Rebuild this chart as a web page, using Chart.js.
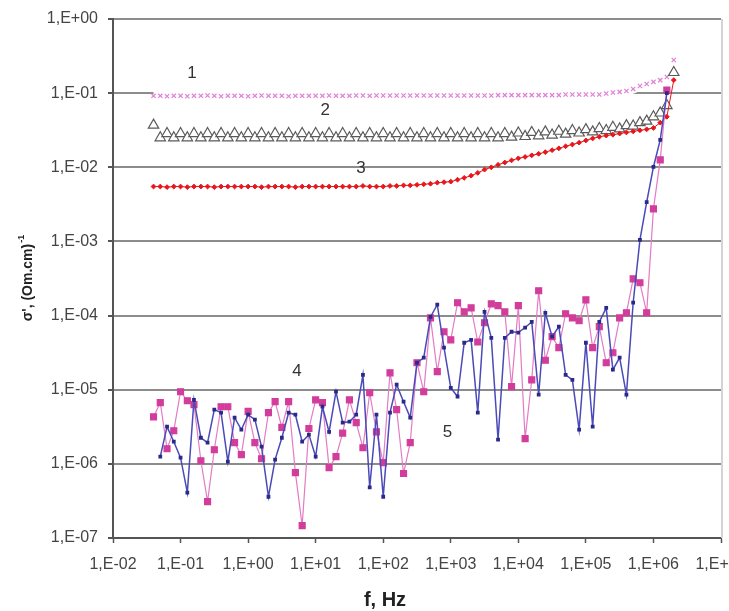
<!DOCTYPE html>
<html>
<head>
<meta charset="utf-8">
<script src="https://cdn.jsdelivr.net/npm/chart.js@4.4.1/dist/chart.umd.min.js"></script>
<style>
    html, body { margin: 0; padding: 0; background: #fff; }
    #wrap { width: 729px; height: 611px; }
</style>
</head>
<body>
<div id="wrap"><canvas id="chart" width="729" height="611"></canvas></div>
<script>
// Measurement frequencies, Hz (10 points per decade)
const freqs = [
    3.98e-2, 5.01e-2, 6.31e-2, 7.94e-2,
    1.00e-1, 1.26e-1, 1.58e-1, 2.00e-1, 2.51e-1, 3.16e-1, 3.98e-1, 5.01e-1, 6.31e-1, 7.94e-1,
    1.00e0, 1.26e0, 1.58e0, 2.00e0, 2.51e0, 3.16e0, 3.98e0, 5.01e0, 6.31e0, 7.94e0,
    1.00e1, 1.26e1, 1.58e1, 2.00e1, 2.51e1, 3.16e1, 3.98e1, 5.01e1, 6.31e1, 7.94e1,
    1.00e2, 1.26e2, 1.58e2, 2.00e2, 2.51e2, 3.16e2, 3.98e2, 5.01e2, 6.31e2, 7.94e2,
    1.00e3, 1.26e3, 1.58e3, 2.00e3, 2.51e3, 3.16e3, 3.98e3, 5.01e3, 6.31e3, 7.94e3,
    1.00e4, 1.26e4, 1.58e4, 2.00e4, 2.51e4, 3.16e4, 3.98e4, 5.01e4, 6.31e4, 7.94e4,
    1.00e5, 1.26e5, 1.58e5, 2.00e5, 2.51e5, 3.16e5, 3.98e5, 5.01e5, 6.31e5, 7.94e5,
    1.00e6, 1.26e6, 1.58e6, 2.00e6
];

// sigma' values, (Om.cm)^-1
const series1 = [
    0.092, 0.092, 0.091, 0.092,
    0.092, 0.091, 0.092, 0.092, 0.093, 0.092, 0.091, 0.092, 0.092, 0.092,
    0.091, 0.092, 0.093, 0.092, 0.092, 0.092, 0.091, 0.092, 0.092, 0.092,
    0.092, 0.092, 0.093, 0.092, 0.092, 0.092, 0.093, 0.093, 0.092, 0.093,
    0.093, 0.093, 0.093, 0.093, 0.093, 0.093, 0.093, 0.093, 0.093, 0.093,
    0.093, 0.093, 0.093, 0.093, 0.093, 0.093, 0.093, 0.094, 0.094, 0.094,
    0.094, 0.094, 0.094, 0.094, 0.094, 0.094, 0.094, 0.096, 0.096, 0.096,
    0.096, 0.096, 0.096, 0.099, 0.102, 0.104, 0.107, 0.114, 0.125, 0.133,
    0.142, 0.150, 0.165, 0.28
];
const series2 = [
    0.037, 0.025, 0.0285, 0.025,
    0.0285, 0.025, 0.0285, 0.025, 0.0285, 0.025, 0.0285, 0.025, 0.0285, 0.025,
    0.0285, 0.025, 0.0285, 0.025, 0.0285, 0.025, 0.0285, 0.025, 0.0285, 0.025,
    0.0285, 0.025, 0.0285, 0.025, 0.0285, 0.025, 0.0285, 0.025, 0.0285, 0.025,
    0.0285, 0.025, 0.0285, 0.025, 0.0285, 0.025, 0.0285, 0.025, 0.0285, 0.025,
    0.0285, 0.025, 0.0285, 0.025, 0.0285, 0.025, 0.0285, 0.025, 0.0285, 0.0255,
    0.0290, 0.0260, 0.0295, 0.0266, 0.0300, 0.0272, 0.0306, 0.0280, 0.0313, 0.0290,
    0.0322, 0.0300, 0.0333, 0.0313, 0.0346, 0.0330, 0.0365, 0.0360, 0.0400, 0.0420,
    0.0480, 0.0540, 0.0680, 0.19
];
const series3 = [
    0.0055, 0.0055, 0.0054, 0.0055,
    0.0055, 0.0054, 0.0055, 0.0055, 0.0055, 0.0054, 0.0055, 0.0055, 0.0055, 0.0055,
    0.0055, 0.0055, 0.0054, 0.0055, 0.0055, 0.0055, 0.0055, 0.0054, 0.0055, 0.0055,
    0.0055, 0.0055, 0.0055, 0.0055, 0.0055, 0.0055, 0.0055, 0.0056, 0.0055, 0.0055,
    0.0055, 0.0056, 0.0056, 0.0057, 0.0057, 0.0058, 0.0059, 0.0060, 0.0062, 0.0063,
    0.0064, 0.0068, 0.0072, 0.0077, 0.0084, 0.0093, 0.0100, 0.0108, 0.0116, 0.0124,
    0.0132, 0.0138, 0.0145, 0.0152, 0.0160, 0.0170, 0.0180, 0.0192, 0.0203, 0.0215,
    0.0230, 0.0245, 0.0258, 0.0268, 0.0275, 0.0285, 0.0295, 0.0305, 0.0315, 0.0325,
    0.034, 0.040, 0.048, 0.15
];
const series4 = [
    4.3e-6, 6.7e-6, 1.6e-6, 2.8e-6,
    9.4e-6, 7.1e-6, 6.3e-6, 1.1e-6, 3.1e-7, 1.55e-6, 5.9e-6, 5.9e-6, 1.93e-6, 1.33e-6,
    5.1e-6, 1.93e-6, 1.17e-6, 4.9e-6, 6.9e-6, 3.1e-6, 6.9e-6, 7.6e-7, 1.47e-7, 3.0e-6,
    7.3e-6, 6.7e-6, 8.9e-7, 1.25e-6, 2.6e-6, 7.3e-6, 3.6e-6, 1.65e-6, 9.1e-6, 2.7e-6,
    1.04e-6, 1.69e-5, 5.4e-6, 7.4e-7, 1.93e-6, 2.31e-5, 9.4e-6, 9.3e-5, 1.75e-5, 6.05e-5,
    4.7e-5, 1.49e-4, 1.12e-4, 1.27e-4, 4.4e-5, 8.0e-5, 1.44e-4, 1.36e-4, 1.12e-4, 1.1e-5,
    1.36e-4, 2.19e-6, 1.36e-5, 2.16e-4, 2.5e-5, 5.2e-5, 3.7e-5, 1.06e-4, 9.3e-5, 8.5e-5,
    1.63e-4, 3.7e-5, 7.1e-5, 2.31e-5, 3.15e-5, 9.3e-5, 1.09e-4, 3.13e-4, 2.77e-4, 1.09e-4,
    2.75e-3, 1.26e-2, 0.11, null
];
const series5 = [
    null, 1.25e-6, 3.17e-6, 1.99e-6,
    1.21e-6, 4.1e-7, 7.3e-6, 2.25e-6, 1.93e-6, 5.4e-6, 4.9e-6, 1.07e-6, 4.2e-6, 2.89e-6,
    4.6e-6, 3.95e-6, 1.71e-6, 3.6e-7, 1.14e-6, 2.25e-6, 4.9e-6, 4.6e-6, 1.99e-6, 2.48e-6,
    1.25e-6, 5.9e-6, 2.7e-6, 9.4e-6, 3.6e-6, 3.7e-6, 4.6e-6, 1.59e-5, 4.8e-7, 4.6e-6,
    3.6e-7, 4.9e-6, 1.17e-5, 6.9e-6, 4.2e-6, 2.31e-5, 2.7e-5, 9.6e-5, 1.40e-4, 3.7e-5,
    1.06e-5, 8.1e-6, 4.3e-5, 4.7e-5, 4.9e-6, 1.12e-4, 5.0e-5, 2.12e-6, 5.0e-5, 6.05e-5,
    5.9e-5, 6.9e-5, 8.2e-5, 8.6e-6, 1.09e-4, 5.2e-5, 7.1e-5, 1.59e-5, 1.36e-5, 2.89e-6,
    4.3e-5, 3.17e-6, 8.2e-5, 1.27e-4, 1.86e-5, 2.7e-5, 8.6e-6, 1.49e-4, 1.05e-3, 3.4e-3,
    1.01e-2, 2.34e-2, 0.10, null
];

// Axis ticks
const xTickValues = [1e-2, 1e-1, 1e0, 1e1, 1e2, 1e3, 1e4, 1e5, 1e6, 1e7];
const xTickLabels = ['1,E-02', '1,E-01', '1,E+00', '1,E+01', '1,E+02', '1,E+03', '1,E+04', '1,E+05', '1,E+06', '1,E+07'];
const yTickValues = [1e-7, 1e-6, 1e-5, 1e-4, 1e-3, 1e-2, 1e-1, 1e0];
const yTickLabels = ['1,E-07', '1,E-06', '1,E-05', '1,E-04', '1,E-03', '1,E-02', '1,E-01', '1,E+00'];

// Curve numbers, placed in data coordinates
const curveNames = ['1', '2', '3', '4', '5'];
const curveNameX = [0.148, 13.8, 47, 5.3, 890];
const curveNameY = [0.187, 0.0594, 0.0098, 1.75e-5, 2.7e-6];

const FONT = 'Arial, "Liberation Sans", sans-serif';

function toPoints(values) {
    return freqs.map((f, i) => ({ x: f, y: values[i] })).filter(p => p.y !== null);
}

function tickLabel(values, labels, value) {
    const idx = values.findIndex(v => Math.abs(Math.log10(v) - Math.log10(value)) < 1e-6);
    return idx >= 0 ? labels[idx] : '';
}

// Right frame, curve numbers and axis titles
const decorations = {
    id: 'decorations',
    afterDraw(chart) {
        const { ctx, chartArea, scales } = chart;
        ctx.save();

        ctx.strokeStyle = '#d4d4d4';
        ctx.lineWidth = 2;
        ctx.beginPath();
        ctx.moveTo(chartArea.right + 1, chartArea.top);
        ctx.lineTo(chartArea.right + 1, chartArea.bottom);
        ctx.stroke();

        ctx.fillStyle = '#333';
        ctx.font = '17px ' + FONT;
        ctx.textAlign = 'center';
        ctx.textBaseline = 'middle';
        curveNames.forEach((name, i) => {
            ctx.fillText(name, scales.x.getPixelForValue(curveNameX[i]), scales.y.getPixelForValue(curveNameY[i]));
        });

        // x title
        ctx.fillStyle = '#222';
        ctx.font = 'bold 20px ' + FONT;
        ctx.fillText('f, Hz', chartArea.left + 272, 600);

        // y title, rotated, with superscript
        const main = "\u03C3', (Om.cm)";
        const sup = '-1';
        ctx.translate(28, (chartArea.top + chartArea.bottom) / 2);
        ctx.rotate(-Math.PI / 2);
        ctx.font = 'bold 14px ' + FONT;
        const wMain = ctx.measureText(main).width;
        ctx.font = 'bold 9px ' + FONT;
        const wSup = ctx.measureText(sup).width;
        const start = -(wMain + wSup) / 2;
        ctx.textAlign = 'left';
        ctx.font = 'bold 14px ' + FONT;
        ctx.fillText(main, start, 0);
        ctx.font = 'bold 9px ' + FONT;
        ctx.fillText(sup, start + wMain + 1, -6);

        ctx.restore();
    }
};

new Chart(document.getElementById('chart'), {
    type: 'scatter',
    data: {
        datasets: [
            {
                label: '1',
                data: toPoints(series1),
                showLine: true,
                borderColor: '#ffffff',
                borderWidth: 9,
                pointStyle: 'crossRot',
                pointRadius: 3,
                pointBorderColor: '#e17fd6',
                pointBorderWidth: 1.2,
                order: 10
            },
            {
                label: '2',
                data: toPoints(series2),
                showLine: false,
                pointStyle: 'triangle',
                pointRadius: 6,
                pointBackgroundColor: '#ffffff',
                pointBorderColor: '#5a5a5a',
                pointBorderWidth: 1.2,
                order: 4
            },
            {
                label: '3',
                data: toPoints(series3),
                showLine: true,
                borderColor: '#e8161b',
                borderWidth: 1,
                pointStyle: 'rectRot',
                pointRadius: 2.4,
                pointBackgroundColor: '#e8161b',
                pointBorderColor: '#e8161b',
                order: 3
            },
            {
                label: '4',
                data: toPoints(series4),
                showLine: true,
                borderColor: '#e27cc4',
                borderWidth: 1.2,
                pointStyle: 'rect',
                pointRadius: 4.2,
                pointBackgroundColor: '#d23c9b',
                pointBorderColor: '#d23c9b',
                order: 2
            },
            {
                label: '5',
                data: toPoints(series5),
                showLine: true,
                borderColor: '#4a4ab8',
                borderWidth: 1.5,
                pointStyle: 'rect',
                pointRadius: 1.6,
                pointBackgroundColor: '#2a2a8a',
                pointBorderColor: '#2a2a8a',
                order: 1
            }
        ]
    },
    options: {
        responsive: false,
        animation: false,
        layout: { padding: { top: 19, right: 8, left: 0, bottom: 0 } },
        plugins: {
            legend: { display: false },
            tooltip: { enabled: false }
        },
        scales: {
            x: {
                type: 'logarithmic',
                min: 1e-2,
                max: 1e7,
                afterBuildTicks: scale => { scale.ticks = xTickValues.map(v => ({ value: v })); },
                afterFit: scale => {
                    scale.height = 73;
                    scale.paddingLeft = 0;
                    scale.paddingRight = 0;
                },
                ticks: {
                    autoSkip: false,
                    maxRotation: 0,
                    padding: 12,
                    color: '#444',
                    font: { family: FONT, size: 16 },
                    callback: value => tickLabel(xTickValues, xTickLabels, value)
                },
                grid: {
                    drawOnChartArea: false,
                    drawTicks: true,
                    tickLength: 5,
                    tickColor: '#555',
                    tickWidth: 1.5
                },
                border: { color: '#555', width: 2 }
            },
            y: {
                type: 'logarithmic',
                min: 1e-7,
                max: 1,
                afterBuildTicks: scale => { scale.ticks = yTickValues.map(v => ({ value: v })); },
                afterFit: scale => {
                    scale.width = 113;
                    scale.paddingTop = 0;
                    scale.paddingBottom = 0;
                },
                ticks: {
                    autoSkip: false,
                    padding: 10,
                    color: '#444',
                    font: { family: FONT, size: 16 },
                    callback: value => tickLabel(yTickValues, yTickLabels, value)
                },
                grid: {
                    color: '#8c8c8c',
                    lineWidth: 2,
                    drawTicks: true,
                    tickLength: 5,
                    tickColor: '#555'
                },
                border: { color: '#555', width: 2 }
            }
        }
    },
    plugins: [decorations]
});
</script>
</body>
</html>
